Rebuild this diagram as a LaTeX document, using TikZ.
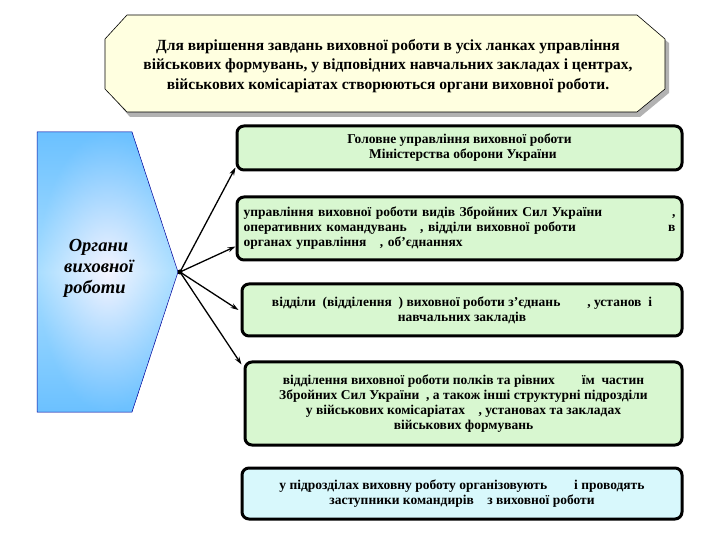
\documentclass[tikz,border=0pt]{standalone}
\usepackage{fontspec}
\setmainfont{Liberation Serif}
\usetikzlibrary{arrows.meta,calc}
\definecolor{gbox}{HTML}{D8F7D0}
\definecolor{bbox}{HTML}{D8F8FC}
\definecolor{ban}{HTML}{FFFFE0}
\begin{document}
\begin{tikzpicture}[x=1pt,y=-1pt,
  box/.style={draw=black,line width=3pt,rounded corners=7pt,fill=gbox,font=\bfseries\fontsize{13.5}{15}\selectfont,align=center,inner sep=2pt},
  arr/.style={-{Stealth[length=8pt,width=5pt]},line width=1.3pt}]
\useasboundingbox (0,0) rectangle (705,540);
% banner
\fill[gray!60] (130,19)--(640,19)--(669,43)--(669,93)--(640,117)--(130,117)--(109,93)--(109,43)--cycle;
\draw[fill=ban,line width=0.6pt] (127,15)--(637,15)--(665,39)--(665,89)--(637,112)--(127,112)--(105,89)--(105,39)--cycle;
\node[font=\bfseries\fontsize{15.5}{19.5}\selectfont,align=center] (banner) at (388,66) {Для вирішення завдань виховної роботи в усіх ланках управління\\військових формувань, у відповідних навчальних закладах і центрах,\\військових комісаріатах створюються органи виховної роботи.};
% pentagon
\shade[left color=blue!55!cyan!70!white,right color=blue!55!cyan!70!white,middle color=blue!10!white,shading angle=0] (37,132)--(132,132)--(178,272)--(132,412)--(37,412)--cycle;
\shade[inner color=white,outer color=blue!30!cyan!50!white,opacity=0.6] (37,132)--(132,132)--(178,272)--(132,412)--(37,412)--cycle;
\draw[line width=0.5pt,blue!60!black] (37,132)--(132,132)--(178,272)--(132,412)--(37,412)--cycle;
\node[font=\bfseries\itshape\fontsize{18.5}{21}\selectfont,align=left] (org) at (99,268) {\ Органи\\виховної\\роботи};
\coordinate (hub) at (180,272);
\fill (hub) circle (2.5pt);
% boxes
\node[box,minimum width=445,minimum height=44] (b1) at (459.5,148) {Головне управління виховної роботи\\\ \ Міністерства оборони України};
\node[box,minimum width=445,minimum height=63,align=left,text width=432] (b2) at (459.5,228.5) {управління виховної роботи видів Збройних Сил України\hfill,\\оперативних командувань\quad, відділи виховної роботи\hfill в\\органах управління\quad, об’єднаннях\\[-2pt]};
\node[box,minimum width=440,minimum height=52] (b3) at (462,310) {відділи\ \ (відділення\ \ ) виховної роботи з’єднань\qquad, установ\ \ і\\навчальних закладів};
\node[box,minimum width=437,minimum height=83] (b4) at (463.5,403.5) {відділення виховної роботи полків та рівних\qquad їм\ \ частин\\Збройних Сил України\ \ , а також інші структурні підрозділи\\у військових комісаріатах\quad, установах та закладах\\військових формувань};
\node[box,fill=bbox,minimum width=440,minimum height=51] (b5) at (462,493.5) {у підрозділах виховну роботу організовують\qquad і проводять\\заступники командирів\quad з виховної роботи};
% arrows
\draw[arr] (hub) -- ($(b1.south west)+(0,-4)$);
\draw[arr] (hub) -- ($(b2.west)+(0,18)$);
\draw[arr] (hub) -- ($(b3.west)+(-2,0)$);
\draw[arr] (hub) -- ($(b4.north west)+(-2,4)$);
\end{tikzpicture}
\end{document}
